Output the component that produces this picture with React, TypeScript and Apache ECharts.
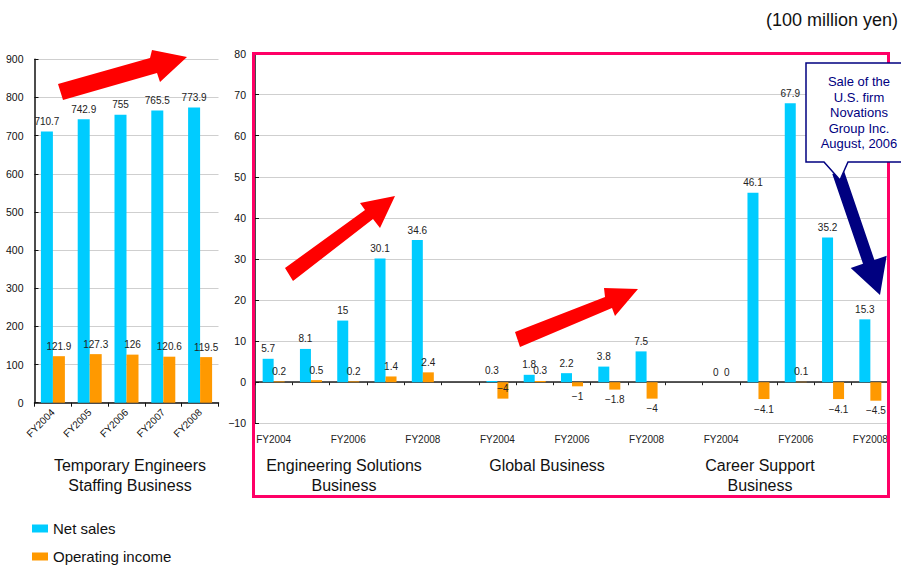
import React, { useEffect, useRef } from "react";
import * as echarts from "echarts";

// Temporary Engineers Staffing Business (left panel)
const staffingYears = ["FY2004", "FY2005", "FY2006", "FY2007", "FY2008"];
const staffingNetSales = [710.7, 742.9, 755, 765.5, 773.9];
const staffingOperatingIncome = [121.9, 127.3, 126, 120.6, 119.5];

// Right panel: three businesses, five fiscal years each
const fiscalYears = ["FY2004", "FY2005", "FY2006", "FY2007", "FY2008"];
const esNetSales = [5.7, 8.1, 15, 30.1, 34.6];
const esOperatingIncome = [0.2, 0.5, 0.2, 1.4, 2.4];
const globalNetSales = [0.3, 1.8, 2.2, 3.8, 7.5];
const globalOperatingIncome = [-4, 0.3, -1, -1.8, -4];
const careerNetSales = [0, 46.1, 67.9, 35.2, 15.3];
const careerOperatingIncome = [0, -4.1, 0.1, -4.1, -4.5];

const leftTicks = { min: 0, max: 900, interval: 100 };
const rightTicks = { min: -10, max: 80, interval: 10 };

const SALES_COLOR = "#00CCFF";
const INCOME_COLOR = "#FF9900";
const FONT = "'Liberation Sans', Arial, sans-serif";

// Category keys for the right panel: business|year, with an empty slot between businesses
const groups = ["ES", "GL", "CS"];
const rightCategories: string[] = [];
groups.forEach((g, gi) => {
  fiscalYears.forEach((y) => rightCategories.push(g + "|" + y));
  if (gi < groups.length - 1) rightCategories.push("gap" + gi + "|");
});

const withGaps = (lists: number[][]) => {
  const out: (number | string)[] = [];
  lists.forEach((l, i) => {
    out.push(...l);
    if (i < lists.length - 1) out.push("-");
  });
  return out;
};

const rightNetSales = withGaps([esNetSales, globalNetSales, careerNetSales]);
const rightOperatingIncome = withGaps([esOperatingIncome, globalOperatingIncome, careerOperatingIncome]);

const minus = (v: number | string) => String(v).replace("-", "\u2212");

const valueLabel = {
  show: true,
  fontSize: 10,
  color: "#222",
  fontFamily: FONT,
  formatter: (p: any) => minus(p.value),
};

const incomeData = rightOperatingIncome.map((v, i) => {
  if (typeof v !== "number") return v;
  if (v < 0) {
    // the first Global Business loss label sits on its bar
    const onBar = i === 6;
    return {
      value: v,
      label: onBar ? { position: "insideTop", distance: 1 } : { position: "bottom" },
    };
  }
  return v;
});

export default function App() {
  const ref = useRef<HTMLDivElement>(null);

  useEffect(() => {
    if (!ref.current) return;
    const chart = echarts.init(ref.current, undefined, { renderer: "svg" });

    const axisLineDark = { lineStyle: { color: "#111", width: 1.5 } };
    const grayGrid = { show: true, lineStyle: { color: "#cfcfcf", width: 1 } };

    chart.setOption({
      animation: false,
      textStyle: { fontFamily: FONT },
      legend: {
        orient: "vertical",
        left: 32,
        top: 521,
        padding: 0,
        itemWidth: 16,
        itemHeight: 8,
        itemGap: 13,
        icon: "rect",
        textStyle: { fontSize: 15, color: "#111", fontFamily: FONT },
        data: ["Net sales", "Operating income"],
      },
      grid: [
        { left: 34.5, top: 59.3, width: 184, height: 343.4 },
        { left: 255, top: 53.5, width: 634, height: 369.8 },
      ],
      xAxis: [
        {
          gridIndex: 0,
          type: "category",
          data: staffingYears,
          axisLine: axisLineDark,
          axisTick: { show: true, length: 4, lineStyle: { color: "#111" } },
          axisLabel: { rotate: 45, fontSize: 10, color: "#111", margin: 8, interval: 0 },
        },
        {
          gridIndex: 1,
          type: "category",
          data: rightCategories,
          position: "bottom",
          axisLine: { show: false, onZero: false },
          axisTick: { show: false },
          axisLabel: {
            interval: 1,
            fontSize: 10,
            color: "#222",
            margin: 11,
            formatter: (v: string) => v.split("|")[1],
          },
        },
        {
          gridIndex: 1,
          type: "category",
          data: rightCategories,
          position: "bottom",
          axisLine: { show: true, onZero: true, lineStyle: { color: "#222", width: 1.5 } },
          axisTick: { show: true, interval: 0, length: 3, lineStyle: { color: "#222" } },
          axisLabel: { show: false },
        },
      ],
      yAxis: [
        {
          gridIndex: 0,
          type: "value",
          ...leftTicks,
          axisLine: { show: true, ...axisLineDark },
          axisTick: { show: true, inside: true, length: 4, lineStyle: { color: "#111" } },
          axisLabel: { fontSize: 10.5, color: "#111", margin: 11 },
          splitLine: grayGrid,
        },
        {
          gridIndex: 1,
          type: "value",
          ...rightTicks,
          axisLine: { show: true, ...axisLineDark },
          axisTick: { show: true, inside: true, length: 4, lineStyle: { color: "#111" } },
          axisLabel: { fontSize: 10.5, color: "#111", margin: 9, formatter: (v: number) => minus(v) },
          splitLine: grayGrid,
        },
      ],
      series: [
        {
          name: "Net sales",
          type: "bar",
          xAxisIndex: 0,
          yAxisIndex: 0,
          data: staffingNetSales,
          itemStyle: { color: SALES_COLOR },
          barWidth: 12,
          barGap: "0%",
          label: { ...valueLabel, position: "top" },
        },
        {
          name: "Operating income",
          type: "bar",
          xAxisIndex: 0,
          yAxisIndex: 0,
          data: staffingOperatingIncome,
          itemStyle: { color: INCOME_COLOR },
          barWidth: 12,
          barGap: "0%",
          label: { ...valueLabel, position: "top" },
        },
        {
          name: "Net sales",
          type: "bar",
          xAxisIndex: 1,
          yAxisIndex: 1,
          data: rightNetSales,
          itemStyle: { color: SALES_COLOR },
          barWidth: 11,
          barGap: "0%",
          label: { ...valueLabel, position: "top" },
        },
        {
          name: "Operating income",
          type: "bar",
          xAxisIndex: 1,
          yAxisIndex: 1,
          data: incomeData,
          itemStyle: { color: INCOME_COLOR },
          barWidth: 11,
          barGap: "0%",
          label: { ...valueLabel, position: "top" },
        },
      ],
      graphic: [
        // frame around the right panel
        {
          type: "rect",
          shape: { x: 253.5, y: 53.5, width: 635, height: 443 },
          style: { fill: "none", stroke: "#FF0066", lineWidth: 3 },
          z: 10,
        },
        // growth arrows
        {
          type: "polygon",
          shape: {
            points: [
              [58, 84], [150, 58], [152, 50], [187, 57], [160, 82], [157, 73], [63, 100],
            ],
          },
          style: { fill: "#FF0000" },
          z: 20,
        },
        {
          type: "polygon",
          shape: {
            points: [
              [285, 268], [365, 210], [360, 203], [395, 196], [380, 228], [373, 219], [293, 281],
            ],
          },
          style: { fill: "#FF0000" },
          z: 20,
        },
        {
          type: "polygon",
          shape: {
            points: [
              [515, 332], [605, 297], [604, 288], [638, 289], [615, 316], [612, 308], [520, 347],
            ],
          },
          style: { fill: "#FF0000" },
          z: 20,
        },
        // decline arrow from the callout
        {
          type: "polygon",
          shape: {
            points: [
              [832.3, 173.9], [843.7, 170.1], [874.4, 260], [886.7, 255.8], [880, 295], [850.7, 268], [863, 263.8],
            ],
          },
          style: { fill: "#000080" },
          z: 20,
        },
        // callout box
        {
          type: "polygon",
          shape: {
            points: [
              [806, 63], [906, 63], [906, 162], [848, 162], [840, 180], [824, 162], [806, 162],
            ],
          },
          style: { fill: "#FFFFFF", stroke: "#000080", lineWidth: 1.5 },
          z: 21,
        },
        {
          type: "text",
          x: 859,
          y: 74,
          z: 22,
          style: {
            text: "Sale of the\nU.S. firm\nNovations\nGroup Inc.\nAugust, 2006",
            fontSize: 13,
            lineHeight: 15.5,
            fontFamily: FONT,
            fill: "#000080",
            align: "center",
            verticalAlign: "top",
          },
        },
        // unit
        {
          type: "text",
          x: 898,
          y: 20,
          style: {
            text: "(100 million yen)",
            fontSize: 18,
            fontFamily: FONT,
            fill: "#111",
            align: "right",
            verticalAlign: "middle",
          },
        },
        // business titles
        ...[
          { x: 130, text: "Temporary Engineers\nStaffing Business" },
          { x: 344, text: "Engineering Solutions\nBusiness" },
          { x: 547, text: "Global Business" },
          { x: 760, text: "Career Support\nBusiness" },
        ].map((t) => ({
          type: "text",
          x: t.x,
          y: 455,
          style: {
            text: t.text,
            fontSize: 16,
            lineHeight: 20,
            fontFamily: FONT,
            fill: "#111",
            align: "center",
            verticalAlign: "top",
          },
        })),
      ],
    });

    return () => chart.dispose();
  }, []);

  return (
    <div
      ref={ref}
      style={{ position: "fixed", left: 0, top: 0, width: 901, height: 568, background: "#fff" }}
    />
  );
}
